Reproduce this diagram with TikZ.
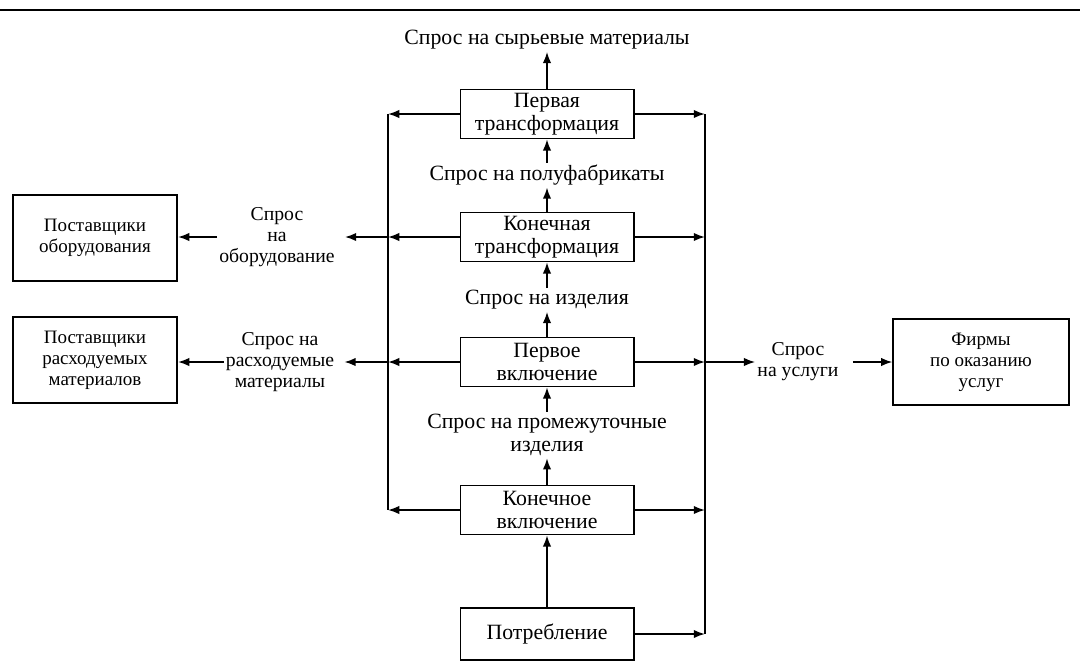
\documentclass[tikz,border=0pt]{standalone}
\usepackage{fontspec}
\setmainfont{Liberation Serif}
\usepackage{tikz}
\usetikzlibrary{calc,arrows,arrows.meta,positioning}

\begin{document}
\begin{tikzpicture}[x=0.025cm, y=-0.025cm, line width=1.25pt, >={Latex[length=8pt,width=6pt]},
		etap/.style={draw, line width=1.25pt, align=center, inner sep=0pt, minimum width=4.33cm, minimum height=1.22cm, font=\fontsize{15.5}{16.5}\selectfont},
		postav/.style={draw, line width=1.4pt, align=center, inner sep=0pt, minimum width=4.1cm, minimum height=2.17cm, font=\fontsize{13.5}{15}\selectfont},
		spros/.style={align=center, inner sep=1pt, font=\fontsize{15.5}{16.5}\selectfont},
		sprosbok/.style={align=center, inner sep=1pt, font=\fontsize{14}{15}\selectfont}]
		
		\useasboundingbox (0,0) rectangle (1080,667);
		
		\draw[line width=1.6pt] (0,10) -- (1080,10);
		
		\begin{scope}
			
			\node at (547,40)[spros] (syr) {Спрос на сырьевые материалы};
			\node at (547,114)[etap] (pt) {Первая\\трансформация};
			\node at (547,175)[spros] (polu) {Спрос на полуфабрикаты};
			\node at (547,237)[etap] (kt) {Конечная\\трансформация};
			\node at (547,300)[spros] (izd) {Спрос на изделия};
			\node at (547,362)[etap] (pv) {Первое\\включение};
			\node at (547,435)[spros] (prom) {Спрос на промежуточные\\изделия};
			\node at (547,510)[etap] (kv) {Конечное\\включение};
			\node at (547,634)[etap, minimum height=1.3cm] (potr) {Потребление};
			
			\coordinate (bl) at (388,0);
			\coordinate (br) at (705,0);
			
			
			\draw[->] (pt) -- (syr);
			\draw[->] (polu) -- (pt);
			\draw[->] (kt) -- (polu);
			\draw[->] (izd) -- (kt);
			\draw[->] (pv) -- (izd);
			\draw[->] (prom) -- (pv);
			\draw[->] (kv) -- (prom);
			\draw[->] (potr) -- (kv);
			
			
			\draw (bl |- pt.west) -- (bl |- kv.west);
			\draw (br |- pt.east) -- (br |- potr.east);
			\foreach \e in {pt,kt,pv,kv}{
				\draw[->] (\e.west) -- (bl |- \e.west);
				\draw[->] (\e.east) -- (br |- \e.east);
			}
			\draw[->] (potr.east) -- (br |- potr.east);
		\end{scope}
		
		\begin{scope}
			
			\node at (277,237)[sprosbok] (sprosob) {Спрос\\на\\оборудование};
			\node at (280,362)[sprosbok] (sprosras) {Спрос на\\расходуемые\\материалы};
			\node at (95,238)[postav] (postob) {Поставщики\\оборудования};
			\node at (95,360)[postav] (postras) {Поставщики\\расходуемых\\материалов};
			
			\draw[->] (bl |- kt.west) -- ([xshift=0.2cm]sprosob.east |- kt.west);
			\draw[->] (sprosob.west |- kt.west) -- (postob.east |- kt.west);
			\draw[->] (bl |- pv.west) -- ([xshift=0.2cm]sprosras.east |- pv.west);
			\draw[->] (sprosras.west |- pv.west) -- (postras.east |- pv.west);
		\end{scope}
		
		\begin{scope}
			
			\node at (798,362)[sprosbok] (sprosusl) {Спрос\\на услуги};
			\node at (981,362)[postav, minimum width=4.38cm] (firmy) {Фирмы\\по оказанию\\услуг};
			
			\draw[->] (br |- pv.east) -- (sprosusl.west |- pv.east);
			\draw[->] ([xshift=0.3cm]sprosusl.east |- pv.east) -- (firmy.west |- pv.east);
		\end{scope}
		
	\end{tikzpicture}
\end{document}
